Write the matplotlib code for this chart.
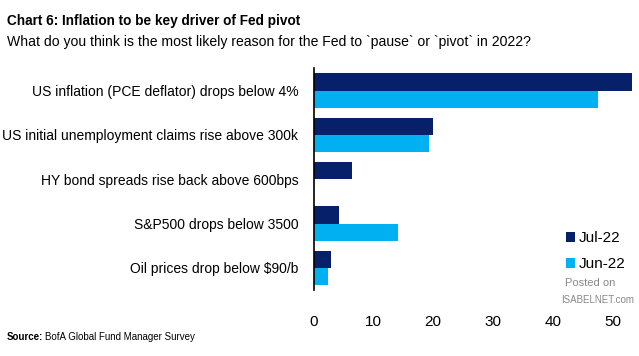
import matplotlib
matplotlib.use('Agg')
import matplotlib.pyplot as plt
import numpy as np

categories = ['US inflation (PCE deflator) drops below 4%',
              'US initial unemployment claims rise above 300k',
              'HY bond spreads rise back above 600bps',
              'S&P500 drops below 3500',
              'Oil prices drop below $90/b']
jul_22 = [53.3, 20, 6.4, 4.3, 2.9]
jun_22 = [47.6, 19.3, 0, 14.1, 2.4]
ticks = [0, 10, 20, 30, 40, 50]

navy = '#07206a'
light = '#00b0f0'
plt.rcParams['font.family'] = ['Liberation Sans', 'DejaVu Sans']

fig = plt.figure(figsize=(6.39, 3.56), dpi=100)
ax = fig.add_axes([0.491, 0.185, 0.5, 0.623])

y = np.arange(len(categories))
h = 0.39
ax.barh(y - h / 2, jul_22, height=h, color=navy, label='Jul-22')
ax.barh(y + h / 2, jun_22, height=h, color=light, label='Jun-22')

ax.set_ylim(4.5, -0.5)
ax.set_xlim(0, 53.5)
ax.set_yticks(y)
ax.set_yticklabels(categories, fontsize=10)
ax.set_xticks(ticks)
ax.set_xticklabels([str(t) for t in ticks], fontsize=11)
ax.tick_params(axis='y', length=0, pad=11)
ax.tick_params(axis='x', length=0, pad=18)
for s in ['top', 'right', 'bottom']:
    ax.spines[s].set_visible(False)
ax.spines['left'].set_linewidth(1.2)

ax.legend(loc='upper left', bbox_to_anchor=(0.765, 0.3), frameon=False,
          fontsize=11, handlelength=0.6, handleheight=0.6, handletextpad=0.25,
          labelspacing=0.78, borderpad=0)

fig.text(0.011, 0.94, 'Chart 6: Inflation to be key driver of Fed pivot',
         fontsize=9.8, fontweight='bold', va='center')
fig.text(0.011, 0.883, 'What do you think is the most likely reason for the Fed to `pause` or `pivot` in 2022?',
         fontsize=10.1, va='center')
fig.text(0.011, 0.053, 'Source:', fontsize=7, fontweight='bold', va='center')
fig.text(0.071, 0.053, 'BofA Global Fund Manager Survey', fontsize=7, va='center')
fig.text(0.884, 0.205, 'Posted on', fontsize=8, color='#888888', va='center')
fig.text(0.992, 0.158, 'ISABELNET.com', fontsize=7, color='#888888', va='center',
         ha='right')

fig.savefig('out.png', dpi=100)
